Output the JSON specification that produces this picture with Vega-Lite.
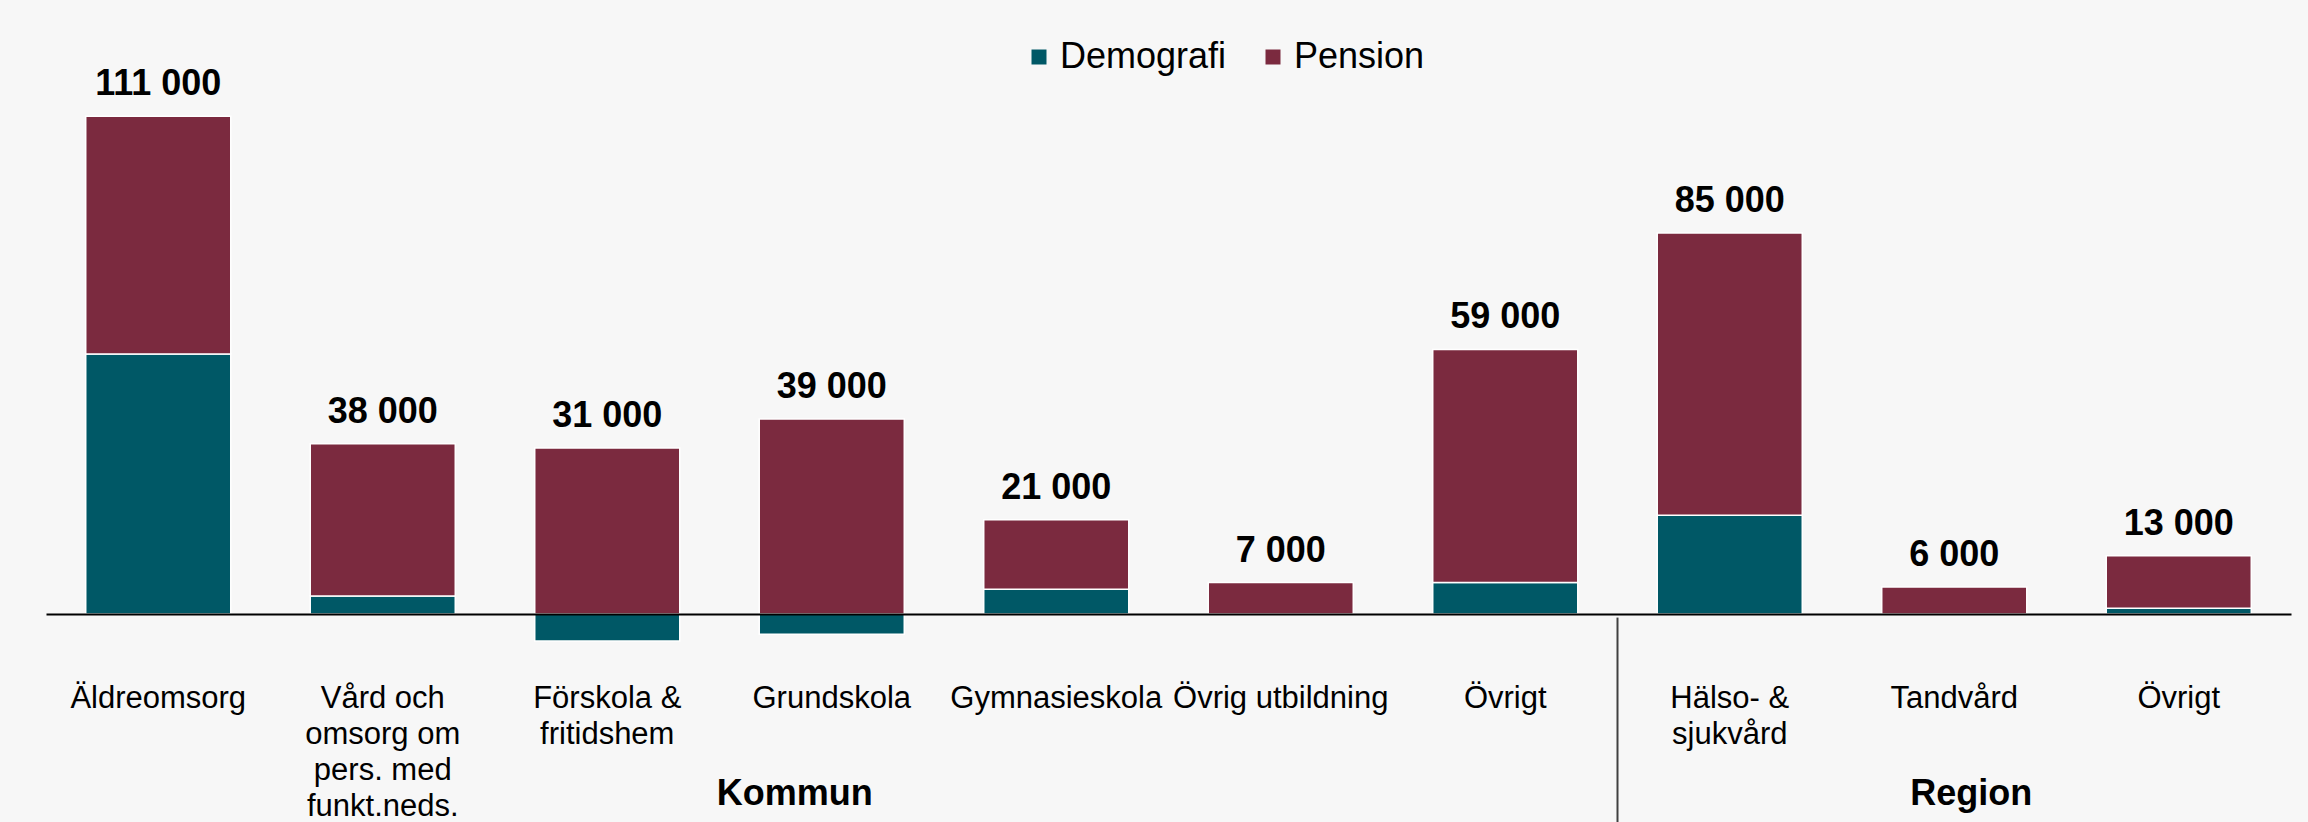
{
  "$schema": "https://vega.github.io/schema/vega-lite/v6.json",
  "width": 2245,
  "height": 538,
  "autosize": {"type": "none"},
  "padding": {"left": 46, "top": 76, "right": 17, "bottom": 208},
  "background": "#f7f7f7",
  "config": {
    "view": {"stroke": null},
    "font": "Liberation Sans",
    "locale": {"number": {"decimal": ",", "thousands": " ", "grouping": [3], "currency": ["", " kr"]}}
  },
  "datasets": {
    "bars": [
      {"kategori": "Äldreomsorg", "komponent": "Demografi", "value": 58000},
      {"kategori": "Äldreomsorg", "komponent": "Pension", "value": 53000},
      {"kategori": "Vård och omsorg om pers. med funkt.neds.", "komponent": "Demografi", "value": 4000},
      {"kategori": "Vård och omsorg om pers. med funkt.neds.", "komponent": "Pension", "value": 34000},
      {"kategori": "Förskola & fritidshem", "komponent": "Demografi", "value": -6000},
      {"kategori": "Förskola & fritidshem", "komponent": "Pension", "value": 37000},
      {"kategori": "Grundskola", "komponent": "Demografi", "value": -4500},
      {"kategori": "Grundskola", "komponent": "Pension", "value": 43500},
      {"kategori": "Gymnasieskola", "komponent": "Demografi", "value": 5500},
      {"kategori": "Gymnasieskola", "komponent": "Pension", "value": 15500},
      {"kategori": "Övrig utbildning", "komponent": "Demografi", "value": 0},
      {"kategori": "Övrig utbildning", "komponent": "Pension", "value": 7000},
      {"kategori": "Övrigt (kommun)", "komponent": "Demografi", "value": 7000},
      {"kategori": "Övrigt (kommun)", "komponent": "Pension", "value": 52000},
      {"kategori": "Hälso- & sjukvård", "komponent": "Demografi", "value": 22000},
      {"kategori": "Hälso- & sjukvård", "komponent": "Pension", "value": 63000},
      {"kategori": "Tandvård", "komponent": "Demografi", "value": 0},
      {"kategori": "Tandvård", "komponent": "Pension", "value": 6000},
      {"kategori": "Övrigt (region)", "komponent": "Demografi", "value": 1300},
      {"kategori": "Övrigt (region)", "komponent": "Pension", "value": 11700}
    ],
    "grupper": [
      {"grupp": "Kommun", "anchor": "Grundskola"},
      {"grupp": "Region", "anchor": "Tandvård"}
    ],
    "skiljelinje": [
      {"kategori": "Hälso- & sjukvård"}
    ]
  },
  "layer": [
    {
      "data": {"name": "bars"},
      "mark": {"type": "bar", "stroke": "white", "strokeWidth": 1.5},
      "encoding": {
        "x": {
          "field": "kategori",
          "type": "nominal",
          "scale": {
            "domain": ["Äldreomsorg", "Vård och omsorg om pers. med funkt.neds.", "Förskola & fritidshem", "Grundskola", "Gymnasieskola", "Övrig utbildning", "Övrigt (kommun)", "Hälso- & sjukvård", "Tandvård", "Övrigt (region)"],
            "paddingInner": 0.354,
            "paddingOuter": 0.177
          },
          "axis": {
            "title": null,
            "ticks": false,
            "tickSize": 0,
            "labelAngle": 0,
            "labelFontSize": 31,
            "labelFont": "Liberation Sans",
            "labelColor": "black",
            "labelPadding": 69,
            "labelLineHeight": 36,
            "labelLimit": 0,
            "labelOverlap": false,
            "labelBound": false,
            "domainColor": "black",
            "domainWidth": 2,
            "zindex": 1,
            "labelExpr": "datum.value == 'Vård och omsorg om pers. med funkt.neds.' ? ['Vård och', 'omsorg om', 'pers. med', 'funkt.neds.'] : datum.value == 'Förskola & fritidshem' ? ['Förskola &', 'fritidshem'] : datum.value == 'Hälso- & sjukvård' ? ['Hälso- &', 'sjukvård'] : indexof(datum.value, 'Övrigt') == 0 ? 'Övrigt' : datum.value"
          }
        },
        "y": {
          "field": "value",
          "type": "quantitative",
          "stack": "zero",
          "scale": {"domain": [0, 120000], "nice": false, "zero": false},
          "axis": null
        },
        "color": {
          "field": "komponent",
          "type": "nominal",
          "scale": {"domain": ["Demografi", "Pension"], "range": ["#005866", "#7b2a3f"]},
          "legend": {
            "title": null,
            "orient": "none",
            "legendX": 975,
            "legendY": -37,
            "direction": "horizontal",
            "symbolType": "square",
            "symbolSize": 225,
            "symbolStrokeWidth": 0,
            "labelFontSize": 36,
            "labelFont": "Liberation Sans",
            "labelColor": "black",
            "labelOffset": 3,
            "columnPadding": 28,
            "padding": 0,
            "labelLimit": 0
          }
        },
        "order": {"field": "komponent", "sort": "ascending"}
      }
    },
    {
      "data": {"name": "bars"},
      "transform": [
        {"joinaggregate": [{"op": "sum", "field": "value", "as": "total"}], "groupby": ["kategori"]},
        {"filter": "datum.value > 0"},
        {"aggregate": [{"op": "sum", "field": "value", "as": "topp"}, {"op": "max", "field": "total", "as": "total"}], "groupby": ["kategori"]}
      ],
      "mark": {"type": "text", "fontSize": 36, "fontWeight": "bold", "dy": -21, "baseline": "alphabetic", "color": "black", "font": "Liberation Sans"},
      "encoding": {
        "x": {"field": "kategori", "type": "nominal"},
        "y": {"field": "topp", "type": "quantitative"},
        "text": {"field": "total", "type": "quantitative", "format": ",.0f"}
      }
    },
    {
      "data": {"name": "grupper"},
      "transform": [{"filter": "datum.grupp == 'Kommun'"}],
      "mark": {"type": "text", "fontSize": 36, "fontWeight": "bold", "dx": -37, "baseline": "alphabetic", "color": "black", "font": "Liberation Sans"},
      "encoding": {
        "x": {"field": "anchor", "type": "nominal"},
        "y": {"datum": -42500, "type": "quantitative"},
        "text": {"field": "grupp", "type": "nominal"}
      }
    },
    {
      "data": {"name": "grupper"},
      "transform": [{"filter": "datum.grupp == 'Region'"}],
      "mark": {"type": "text", "fontSize": 36, "fontWeight": "bold", "dx": 17, "baseline": "alphabetic", "color": "black", "font": "Liberation Sans"},
      "encoding": {
        "x": {"field": "anchor", "type": "nominal"},
        "y": {"datum": -42500, "type": "quantitative"},
        "text": {"field": "grupp", "type": "nominal"}
      }
    },
    {
      "data": {"name": "skiljelinje"},
      "mark": {"type": "rule", "color": "#404040", "strokeWidth": 2},
      "encoding": {
        "x": {"field": "kategori", "type": "nominal", "bandPosition": -0.274},
        "y": {"datum": -800, "type": "quantitative"},
        "y2": {"datum": -48000}
      }
    }
  ]
}
